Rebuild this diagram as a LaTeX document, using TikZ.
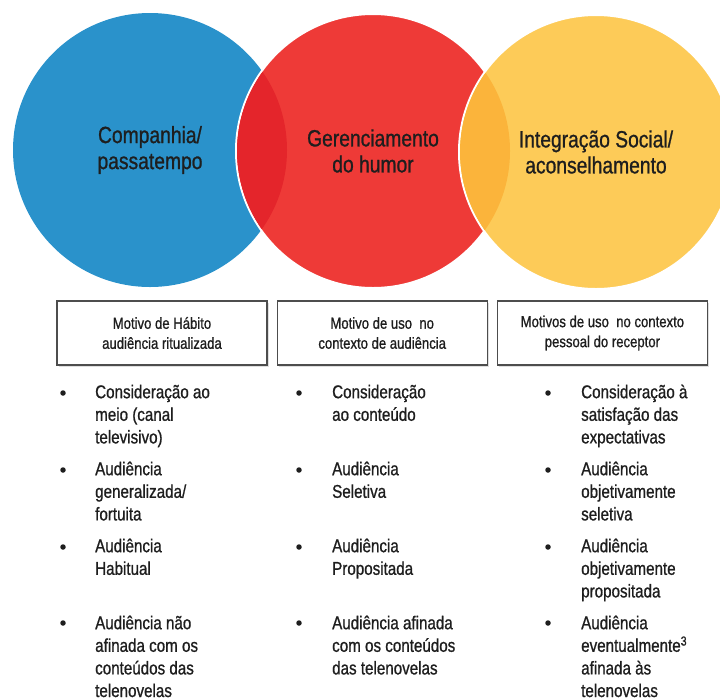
\documentclass[tikz,border=0pt]{standalone}
\usepackage{fontspec}
\setmainfont{Liberation Sans}
\newfontfamily\narrowfont[FakeStretch=0.82,FakeBold=0.9]{Liberation Sans}
\usetikzlibrary{positioning,shadows}

\definecolor{cblue}{HTML}{2A92CB}
\definecolor{cred}{HTML}{EE3A37}
\definecolor{credlens}{HTML}{E4252B}
\definecolor{cyellow}{HTML}{FDCB58}
\definecolor{corange}{HTML}{FBB43B}
\definecolor{ctext}{HTML}{1E1E1E}
\definecolor{cframe}{HTML}{4D4D4D}
\newcommand{\ftop}{\rule{0pt}{14pt}}

\begin{document}
\begin{tikzpicture}[x=1pt,y=-1pt,node distance=9pt]
  \tikzstyle{every node}=[text=ctext]
  \tikzstyle{disc}=[circle,minimum size=274pt,inner sep=0pt,align=center,
                    font=\narrowfont\fontsize{23.5}{26}\selectfont]
  \tikzstyle{motive}=[draw=cframe,line width=1.2pt,fill=white,minimum width=210pt,
                      minimum height=64pt,align=center,
                      font=\narrowfont\fontsize{16}{20}\selectfont,
                      drop shadow={opacity=0.25,shadow xshift=1.5pt,shadow yshift=-1.5pt}]
  \tikzstyle{item}=[anchor=north west,inner sep=0pt,align=left,
                    font=\narrowfont\fontsize{18.5}{22.6}\selectfont]
  \tikzstyle{dot}=[circle,fill=ctext,minimum size=5.5pt,inner sep=0pt]

  \useasboundingbox (0,0) rectangle (720,697);
  \clip (0,0) rectangle (720,697);

  % the three motives
  \node[disc,fill=cblue] (A) at (150,150) {Companhia/\\passatempo};
  \node[disc,fill=cred,draw=white,line width=2pt] (B) at (373,151) {Gerenciamento\\do humor};
  \begin{scope}
    \clip (B.center) circle (136);
    \fill[credlens] (A.center) circle (137);
  \end{scope}
  \node[disc,fill=cyellow,draw=white,line width=2pt] (C) at (596,152) {Integração Social/\\aconselhamento};
  \begin{scope}
    \clip (C.center) circle (136);
    \fill[corange] (B.center) circle (137);
  \end{scope}

  % boxes
  \node[motive] (MA) at (162,333) {Motivo de Hábito\\audiência ritualizada};
  \node[motive,right=of MA] (MB) {Motivo de uso\ \ no\\contexto de audiência};
  \node[motive,right=of MB] (MC) {Motivos de uso\ \ no contexto\\pessoal do receptor};

  % first column
  \node[dot] (A1d) at (63,393) {};
  \node[item] (A1) at (95,384) {\ftop Consideração ao\\meio (canal\\televisivo)};
  \node[dot] (A2d) at (63,470) {};
  \node[item] (A2) at (95,461) {\ftop Audiência\\generalizada/\\fortuita};
  \node[dot] (A3d) at (63,547) {};
  \node[item] (A3) at (95,538) {\ftop Audiência\\Habitual};
  \node[dot] (A4d) at (63,623) {};
  \node[item] (A4) at (95,615) {\ftop Audiência não\\afinada com os\\conteúdos das\\telenovelas};

  % second column
  \node[dot] (B1d) at (299,393) {};
  \node[item] (B1) at (332,384) {\ftop Consideração\\ao conteúdo};
  \node[dot] (B2d) at (299,470) {};
  \node[item] (B2) at (332,461) {\ftop Audiência\\Seletiva};
  \node[dot] (B3d) at (299,547) {};
  \node[item] (B3) at (332,538) {\ftop Audiência\\Propositada};
  \node[dot] (B4d) at (299,623) {};
  \node[item] (B4) at (332,615) {\ftop Audiência afinada\\com os conteúdos\\das telenovelas};

  % third column
  \node[dot] (C1d) at (548,393) {};
  \node[item] (C1) at (581,384) {\ftop Consideração à\\satisfação das\\expectativas};
  \node[dot] (C2d) at (548,470) {};
  \node[item] (C2) at (581,461) {\ftop Audiência\\objetivamente\\seletiva};
  \node[dot] (C3d) at (548,547) {};
  \node[item] (C3) at (581,538) {\ftop Audiência\\objetivamente\\propositada};
  \node[dot] (C4d) at (548,623) {};
  \node[item] (C4) at (581,615) {\ftop Audiência\\eventualmente\textsuperscript{3}\\afinada às\\telenovelas};
\end{tikzpicture}
\end{document}
